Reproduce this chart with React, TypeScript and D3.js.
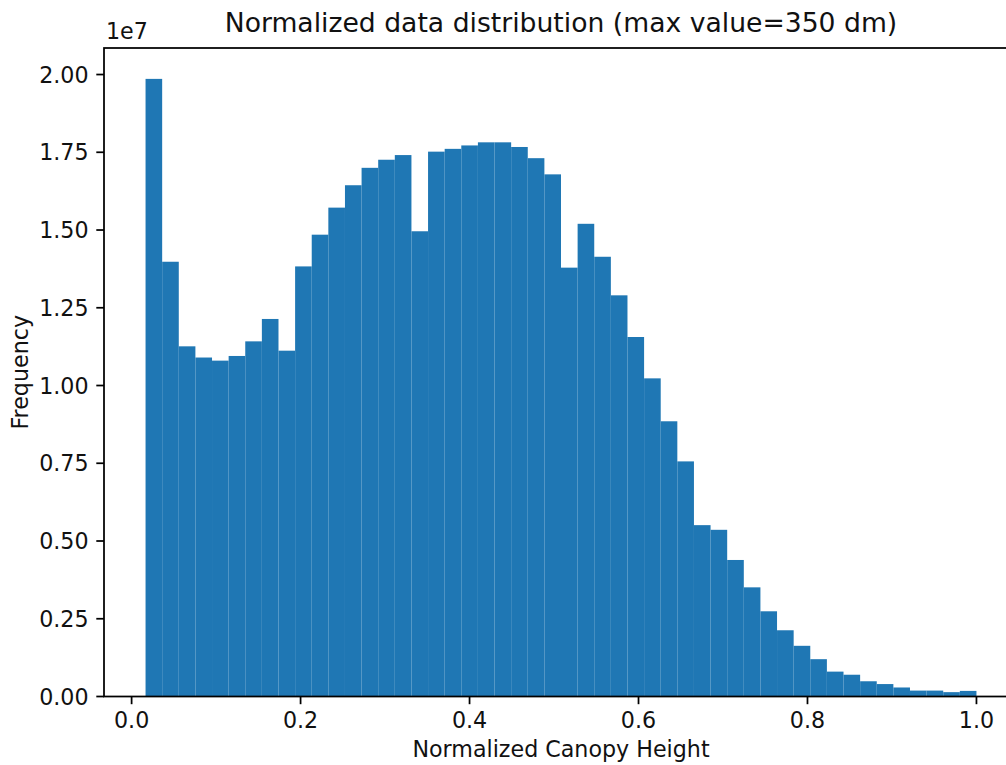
import React from 'react';
import * as d3 from 'd3';

// histogram counts, 50 equal bins (units of 1e7)
const counts = [
  1.986, 1.398, 1.126, 1.090, 1.080, 1.095, 1.142, 1.214, 1.112, 1.383,
  1.485, 1.572, 1.644, 1.700, 1.726, 1.741, 1.496, 1.752, 1.761, 1.772,
  1.782, 1.782, 1.767, 1.731, 1.679, 1.379, 1.520, 1.414, 1.290, 1.156,
  1.023, 0.885, 0.756, 0.551, 0.536, 0.439, 0.351, 0.274, 0.213, 0.163,
  0.120, 0.080, 0.070, 0.049, 0.040, 0.029, 0.019, 0.019, 0.014, 0.018,
].map(v => v * 1e7);

const binStart = 0.0165;
const binEnd = 1.0;
const xTicks = [0, 0.2, 0.4, 0.6, 0.8, 1.0];
const yTicks = [0, 0.25, 0.5, 0.75, 1.0, 1.25, 1.5, 1.75, 2.0].map(v => v * 1e7);

const title = 'Normalized data distribution (max value=350 dm)';
const xLabel = 'Normalized Canopy Height';
const yLabel = 'Frequency';

const W = 1006;
const H = 765;
const left = 104, right = 1018, top = 48, bottom = 696.5;
const font = '"DejaVu Sans", sans-serif';
const fs = 22.2;

export default function App() {
  const binW = (binEnd - binStart) / counts.length;
  const pad = (binEnd - binStart) * 0.05; // matplotlib default margins
  const x = d3.scaleLinear().domain([binStart - pad, binEnd + pad]).range([left, right]);
  const y = d3.scaleLinear().domain([0, d3.max(counts)! * 1.05]).range([bottom, top]);
  const tickLen = 7.7;

  return (
    <div style={{ position: 'absolute', left: 0, top: 0 }}>
      <svg width={W} height={H} style={{ display: 'block', background: '#fff' }} fontFamily={font}>
        {counts.map((c, i) => {
          const x0 = binStart + i * binW;
          return (
            <rect key={i} x={x(x0)} y={y(c)} width={x(x0 + binW) - x(x0)}
              height={y(0) - y(c)} fill="#1f77b4" />
          );
        })}

        {/* spines */}
        <g stroke="#000" strokeWidth={1.75} fill="none">
          <rect x={left} y={top} width={right - left} height={bottom - top} />
        </g>

        {/* x ticks */}
        {xTicks.map(t => (
          <g key={t} transform={`translate(${x(t)},${bottom})`}>
            <line y2={tickLen} stroke="#000" strokeWidth={1.75} />
            <text y={31} textAnchor="middle" fontSize={fs} fill="#111">{d3.format('.1f')(t)}</text>
          </g>
        ))}

        {/* y ticks */}
        {yTicks.map(t => (
          <g key={t} transform={`translate(${left},${y(t)})`}>
            <line x2={-tickLen} stroke="#000" strokeWidth={1.75} />
            <text x={-tickLen - 7.7} dy="0.36em" textAnchor="end" fontSize={fs} fill="#111">
              {d3.format('.2f')(t / 1e7)}
            </text>
          </g>
        ))}
        <text x={left + 2} y={39} fontSize={fs} fill="#111">1e7</text>

        <text x={(left + right) / 2} y={32} textAnchor="middle" fontSize={fs * 1.2} fill="#111">{title}</text>
        <text x={(left + right) / 2} y={757} textAnchor="middle" fontSize={fs} fill="#111">{xLabel}</text>
        <text transform={`translate(28,${(top + bottom) / 2}) rotate(-90)`} textAnchor="middle"
          fontSize={fs} fill="#111">{yLabel}</text>
      </svg>
    </div>
  );
}
